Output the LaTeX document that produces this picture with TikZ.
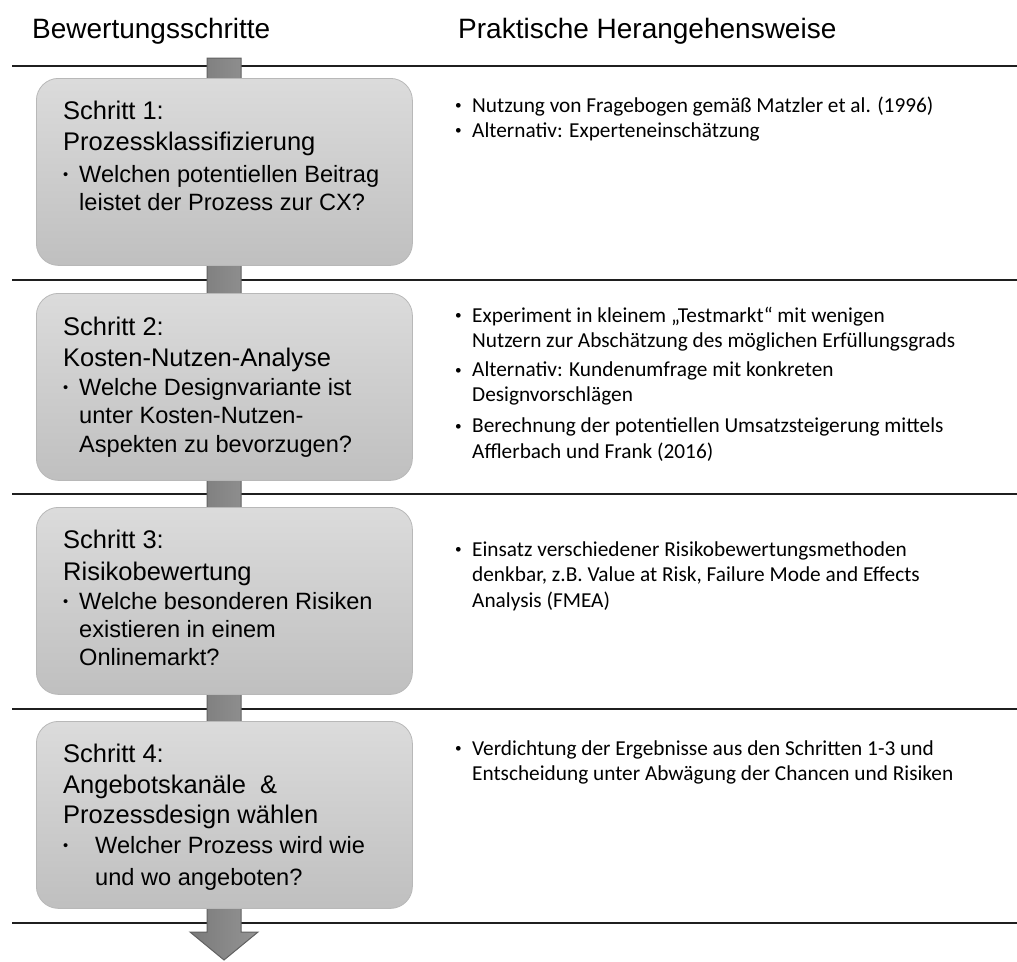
\documentclass[tikz,border=0pt]{standalone}
\usepackage{fontspec}
\setmainfont{Liberation Sans}
\newfontfamily\notefont{Carlito}
\usetikzlibrary{calc}

% small list bullet
\newcommand{\dotmark}{\raisebox{0.12em}{\scalebox{0.62}{\textbullet}}}
% left column: bullet with hanging text
\newcommand{\lb}[1]{\makebox[16pt][l]{\dotmark}#1}
\newcommand{\lbw}[1]{\makebox[32pt][l]{\dotmark}#1}
% right column: bullet and continuation line
\newcommand{\rb}[1]{\makebox[17pt][l]{\dotmark}#1}
\newcommand{\rc}[1]{\hspace*{17pt}#1}
% step title and question sizes
\newcommand{\tsize}{\fontsize{25.5}{29.5}\selectfont}
\newcommand{\qsize}{\fontsize{23.6}{29.5}\selectfont}

\tikzset{
  rule/.style={draw=black!88, line width=2.4pt},
  stepbox/.style={rounded corners=22pt, draw=black!28, line width=0.8pt,
    top color=black!14, bottom color=black!25,
    minimum width=376pt, minimum height=187pt, inner sep=0pt, anchor=north west},
  steptext/.style={anchor=base west, inner sep=0pt},
  notetext/.style={anchor=base west, inner sep=0pt, font=\notefont\fontsize{21.3}{25.3}\selectfont},
  headtext/.style={anchor=base west, inner sep=0pt, font=\fontsize{28}{30}\selectfont},
  flow/.style={draw=black!62, line width=1pt, left color=black!52, right color=black!42}
}

\begin{document}
\begin{tikzpicture}[x=1pt, y=-1pt]
\useasboundingbox (0,0) rectangle (1017,961);

% column headings
\node[headtext] (h1) at (32,38) {Bewertungsschritte};
\node[headtext] (h2) at (458,38) {Praktische Herangehensweise};

% horizontal separators
\coordinate (r1a) at (12,66);  \coordinate (r1b) at (1017,66);
\coordinate (r2a) at (12,280); \coordinate (r2b) at (1017,280);
\coordinate (r3a) at (12,494); \coordinate (r3b) at (1017,494);
\coordinate (r4a) at (12,709); \coordinate (r4b) at (1017,709);
\coordinate (r5a) at (12,923); \coordinate (r5b) at (1017,923);
\foreach \r in {1,...,5} { \draw[rule] (r\r a) -- (r\r b); }

% process arrow running behind the step boxes
\coordinate (flowtop) at (224,58);
\coordinate (flowtip) at (224,960);
\path[flow] ($(flowtop)+(-17,0)$) -- ($(flowtop)+(17,0)$)
  -- ($(flowtip)+(17,-28)$) -- ($(flowtip)+(34,-28)$) -- (flowtip)
  -- ($(flowtip)+(-34,-28)$) -- ($(flowtip)+(-17,-28)$) -- cycle;

% step boxes
\node[stepbox] (s1) at (36,78) {};
\node[stepbox] (s2) at (36,293) {};
\node[stepbox] (s3) at (36,507) {};
\node[stepbox] (s4) at (36,721) {};

\node[steptext] (t1) at (63,119) {\parbox[t]{345pt}{\tsize
  Schritt 1:\\[1.5pt]
  Prozessklassifizierung\\[2.5pt]
  \qsize\lb{Welchen potentiellen Beitrag}\\[-1.5pt]
  \hspace*{16pt}leistet der Prozess zur CX?}};

\node[steptext] (t2) at (63,335) {\parbox[t]{345pt}{\tsize
  Schritt 2:\\[1.5pt]
  Kosten-Nutzen-Analyse\\[-0.5pt]
  \qsize\lb{Welche Designvariante ist}\\[-1.5pt]
  \hspace*{16pt}unter Kosten-Nutzen-\\[-0.5pt]
  \hspace*{16pt}Aspekten zu bevorzugen?}};

\node[steptext] (t3) at (63,548) {\parbox[t]{345pt}{\tsize
  Schritt 3:\\[2.5pt]
  Risikobewertung\\[-0.5pt]
  \qsize\lb{Welche besonderen Risiken}\\[-1.5pt]
  \hspace*{16pt}existieren in einem\\[-1.5pt]
  \hspace*{16pt}Onlinemarkt?}};

\node[steptext] (t4) at (63,762) {\parbox[t]{345pt}{\tsize
  Schritt 4:\\[1.5pt]
  Angebotskanäle \ \&\\[0.5pt]
  Prozessdesign wählen\\[0.5pt]
  \qsize\lbw{Welcher Prozess wird wie}\\[2.5pt]
  \hspace*{32pt}und wo angeboten?}};

% practical approach per step
\node[notetext] (p1) at (455,112) {\parbox[t]{560pt}{%
  \rb{Nutzung von Fragebogen gemäß Matzler et al. (1996)}\\
  \rb{Alternativ: Experteneinschätzung}}};

\node[notetext] (p2) at (455,322) {\parbox[t]{560pt}{%
  \rb{Experiment in kleinem „Testmarkt“ mit wenigen}\\
  \rc{Nutzern zur Abschätzung des möglichen Erfüllungsgrads}\\[4pt]
  \rb{Alternativ: Kundenumfrage mit konkreten}\\
  \rc{Designvorschlägen}\\[5.5pt]
  \rb{Berechnung der potentiellen Umsatzsteigerung mittels}\\
  \rc{Afflerbach und Frank (2016)}}};

\node[notetext] (p3) at (455,556) {\parbox[t]{560pt}{%
  \rb{Einsatz verschiedener Risikobewertungsmethoden}\\[0.5pt]
  \rc{denkbar, z.B. Value at Risk, Failure Mode and Effects}\\
  \rc{Analysis (FMEA)}}};

\node[notetext] (p4) at (455,755) {\parbox[t]{560pt}{%
  \rb{Verdichtung der Ergebnisse aus den Schritten 1-3 und}\\
  \rc{Entscheidung unter Abwägung der Chancen und Risiken}}};

\end{tikzpicture}
\end{document}
